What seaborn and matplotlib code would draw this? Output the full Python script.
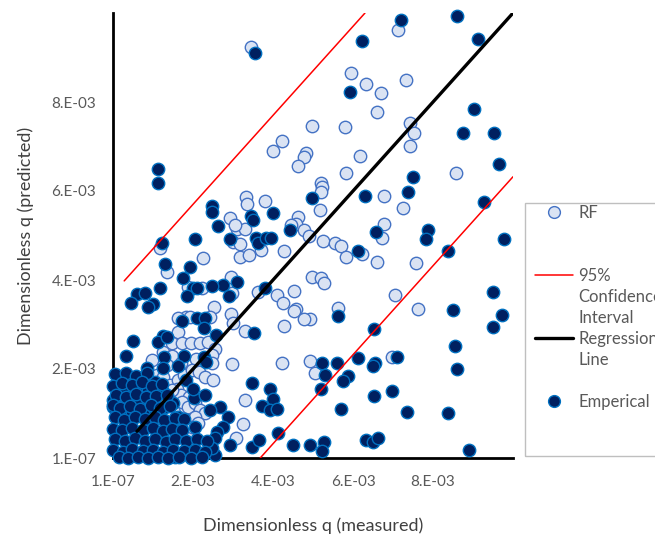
import numpy as np
import pandas as pd
import matplotlib
matplotlib.use('Agg')
import matplotlib.pyplot as plt
from matplotlib.lines import Line2D
from matplotlib.patches import Rectangle
import seaborn as sns

# all values below are in units of 1e-3
SCALE = 1e-3

# RF predictions (measured, predicted)
rf_pts = [
    (3.45, 9.24), (4.97, 7.46), (4.23, 7.12), (4.00, 6.90), (4.83, 6.85), (4.78, 6.76),
    (7.13, 9.62), (5.95, 8.65), (6.33, 8.40), (7.33, 8.49), (6.70, 8.20), (6.60, 7.78),
    (5.80, 7.44), (7.43, 7.53), (7.53, 7.30), (7.43, 7.01), (6.18, 6.79), (4.63, 6.56),
    (3.33, 5.87), (3.35, 5.71), (3.80, 5.78), (2.93, 5.39), (3.10, 5.15), (3.30, 5.15),
    (3.05, 5.24), (4.63, 5.42), (4.58, 5.26), (4.45, 5.24), (4.78, 5.12), (3.00, 4.85),
    (3.18, 4.81), (3.70, 4.67), (4.28, 4.65), (4.90, 4.99), (1.18, 4.72), (2.25, 4.49),
    (3.18, 4.52), (3.40, 4.56), (1.35, 4.18), (2.95, 4.07), (1.88, 3.84), (2.23, 3.82),
    (2.98, 3.71), (3.63, 3.73), (4.10, 3.66), (4.25, 3.48), (4.53, 3.75), (4.58, 3.35),
    (4.97, 4.07), (2.53, 3.39), (5.83, 6.40), (8.58, 6.40), (5.20, 6.18), (5.23, 6.09),
    (5.20, 5.98), (5.18, 5.57), (6.78, 5.89), (7.25, 5.62), (6.78, 5.26), (6.73, 4.94),
    (5.25, 4.88), (5.55, 4.83), (5.70, 4.76), (5.83, 4.52), (6.23, 4.58), (6.60, 4.40),
    (7.58, 4.38), (5.20, 4.04), (5.28, 3.93), (7.05, 3.66), (5.63, 3.37), (7.63, 3.35),
    (4.93, 3.12), (4.93, 2.18), (5.05, 1.91), (6.98, 2.27),
    (1.83, 3.17), (1.93, 3.17), (1.63, 3.15), (2.43, 3.17), (2.95, 3.24), (3.00, 3.03),
    (4.28, 2.97), (4.53, 3.30), (4.78, 3.12), (1.63, 2.83), (3.30, 2.85),
    (1.48, 2.58), (1.73, 2.58), (1.95, 2.58), (2.18, 2.58), (2.38, 2.61), (2.55, 2.45),
    (1.25, 2.38), (1.33, 2.25), (1.48, 2.29), (1.35, 2.09), (1.70, 2.13), (2.08, 2.22),
    (2.48, 2.31), (2.48, 2.13), (2.98, 2.11), (4.23, 2.13), (0.98, 2.20),
    (1.10, 1.87), (1.25, 1.82), (1.43, 1.64), (1.63, 1.75), (1.78, 1.87), (1.98, 1.98),
    (2.15, 1.93), (2.30, 1.82), (2.50, 1.75), (1.60, 1.55), (1.70, 1.42), (1.90, 1.37),
    (1.60, 1.08), (1.80, 1.15), (1.98, 1.01), (1.93, 0.85), (1.75, 0.67), (1.85, 0.56),
    (3.30, 1.30), (3.25, 0.76), (3.08, 0.45),
    (1.48, 1.53), (1.73, 1.26), (1.88, 1.15), (2.05, 1.24), (2.18, 1.08), (2.30, 1.01),
    (2.05, 0.92), (1.98, 0.70), (2.13, 0.79),
]

# empirical predictions (measured, predicted)
emp_pts = [
    (3.55, 9.10), (7.20, 9.84), (8.60, 9.93), (6.23, 9.37), (9.13, 9.42), (5.93, 8.22),
    (9.03, 7.84), (8.75, 7.30), (9.53, 7.30), (1.13, 6.49), (1.13, 6.18), (2.48, 5.66),
    (2.48, 5.53), (4.00, 5.51), (3.45, 5.44), (3.50, 5.35), (2.63, 5.21), (4.43, 5.12),
    (4.97, 5.84), (2.05, 4.92), (2.93, 4.92), (3.58, 4.94), (3.63, 4.83), (3.83, 4.94),
    (3.95, 4.94), (1.23, 4.83), (1.30, 4.36), (1.93, 4.29), (1.75, 4.04), (3.10, 3.96),
    (2.75, 3.89), (2.48, 3.87), (2.00, 3.82), (2.10, 3.82), (1.18, 3.82), (1.85, 3.64),
    (2.90, 3.64), (3.80, 3.82), (0.60, 3.69), (0.80, 3.71), (0.45, 3.48), (1.00, 3.46),
    (0.88, 3.39), (9.65, 6.61), (7.50, 6.31), (6.30, 5.89), (7.38, 5.98), (9.28, 5.75),
    (6.58, 5.08), (7.88, 5.12), (7.83, 4.92), (9.78, 4.92), (8.38, 4.65), (6.13, 4.65),
    (9.50, 3.73), (8.50, 3.33), (5.63, 3.19), (9.73, 3.21), (9.50, 2.94), (6.53, 2.90),
    (8.55, 2.52), (8.60, 2.00), (5.23, 2.13), (5.60, 2.13), (5.30, 1.87), (5.20, 1.55),
    (6.13, 2.25), (6.55, 2.13), (6.50, 2.07), (7.10, 2.27), (5.88, 1.84), (5.75, 1.73),
    (6.53, 1.39), (6.98, 1.51), (5.70, 1.10), (7.35, 1.03), (8.38, 1.01), (4.93, 0.29),
    (5.28, 0.36), (5.23, 0.16), (6.33, 0.40), (6.50, 0.36), (6.63, 0.45), (8.90, 0.18),
    (1.73, 3.08), (2.10, 3.15), (2.30, 3.15), (2.28, 2.92), (3.53, 2.81), (1.25, 2.74),
    (1.13, 2.61), (1.35, 2.72), (0.50, 2.63), (2.58, 2.76), (0.33, 2.29), (1.28, 2.27),
    (1.78, 2.29), (2.28, 2.27), (1.63, 2.07), (2.33, 2.16), (0.85, 2.02), (1.25, 2.02),
    (1.83, 1.75), (1.05, 1.71), (1.18, 1.60), (0.10, 1.71), (0.43, 1.75), (0.13, 1.55),
    (0.30, 1.53), (0.63, 1.60), (0.88, 1.53), (0.60, 1.37), (0.83, 1.37), (2.03, 1.35),
    (2.30, 1.42), (2.00, 1.55), (1.25, 1.48), (1.50, 1.24), (0.00, 1.15), (0.25, 1.17),
    (0.00, 1.30), (0.30, 1.01), (0.48, 1.01), (0.68, 1.03), (0.88, 0.97), (1.05, 1.08),
    (1.30, 1.15), (0.63, 1.24), (1.63, 0.92), (2.05, 0.70), (3.48, 1.69), (3.93, 1.55),
    (4.00, 1.33), (3.73, 1.17), (3.93, 1.08), (4.10, 1.10), (2.88, 0.92), (2.75, 0.70),
    (2.60, 0.58), (2.55, 0.45), (2.93, 0.29), (3.48, 0.25), (3.65, 0.40), (4.13, 0.56),
    (4.50, 0.29), (2.55, 0.07), (2.23, 0.09), (2.05, 0.07), (1.88, 0.13), (1.73, 0.07),
    (2.48, 0.22), (1.55, 0.02), (2.68, 1.15), (2.43, 1.08),
    # dense cluster near the origin
    (0.05, 1.88), (0.32, 1.92), (0.58, 1.85), (0.85, 1.90),
    (0.00, 1.62), (0.22, 1.68), (0.48, 1.64), (0.72, 1.70), (0.98, 1.62), (1.22, 1.66),
    (0.08, 1.42), (0.33, 1.38), (0.58, 1.44), (0.82, 1.36), (1.08, 1.40), (1.35, 1.42),
    (0.00, 1.18), (0.18, 1.12), (0.42, 1.16), (0.68, 1.10), (0.95, 1.18), (1.18, 1.12),
    (1.42, 1.16),
    (0.05, 0.92), (0.28, 0.86), (0.55, 0.93), (0.80, 0.87), (1.05, 0.92), (1.28, 0.86),
    (1.55, 0.91), (1.78, 0.88),
    (0.00, 0.66), (0.22, 0.62), (0.48, 0.68), (0.74, 0.62), (1.00, 0.67), (1.24, 0.61),
    (1.48, 0.66), (1.72, 0.63),
    (0.06, 0.42), (0.30, 0.38), (0.56, 0.44), (0.80, 0.38), (1.06, 0.43), (1.32, 0.37),
    (1.56, 0.42), (1.82, 0.38), (2.10, 0.42), (2.35, 0.38),
    (0.00, 0.18), (0.25, 0.14), (0.48, 0.20), (0.74, 0.15), (1.00, 0.19), (1.24, 0.14),
    (1.50, 0.19), (1.78, 0.15), (2.05, 0.18), (2.30, 0.14),
    (0.14, 0.02), (0.38, 0.00), (0.62, 0.03), (0.88, 0.00), (1.12, 0.03), (1.38, 0.00),
    (1.66, 0.03), (1.95, 0.00), (2.22, 0.02),
]

# fitted lines (end points)
reg_x = [0.6, 10.0]
reg_y = [0.6, 10.0]
ci_upper_x = [0.28, 6.3]
ci_upper_y = [3.98, 10.0]
ci_lower_x = [3.68, 10.0]
ci_lower_y = [0.0, 6.32]

tick_vals = [0, 2, 4, 6, 8]
tick_labels = ['1.E-07', '2.E-03', '4.E-03', '6.E-03', '8.E-03']

rf = pd.DataFrame(rf_pts, columns=['measured', 'predicted']) * SCALE
emp = pd.DataFrame(emp_pts, columns=['measured', 'predicted']) * SCALE

sns.set_style('white')
plt.rcParams['font.family'] = ['Lato', 'DejaVu Sans']

RF_FACE, RF_EDGE = '#DAE3F3', '#4472C4'
EMP_FACE, EMP_EDGE = '#002060', '#0070C0'

fig = plt.figure(figsize=(6.55, 5.36), dpi=100)
ax = fig.add_axes([113 / 655, 78 / 536, 400 / 655, 445 / 536])

sns.scatterplot(data=rf, x='measured', y='predicted', ax=ax, s=80, color=RF_FACE,
                edgecolor=RF_EDGE, linewidth=1.0, zorder=3, clip_on=False, legend=False)
sns.scatterplot(data=emp, x='measured', y='predicted', ax=ax, s=80, color=EMP_FACE,
                edgecolor=EMP_EDGE, linewidth=1.0, zorder=4, clip_on=False, legend=False)

sns.lineplot(x=np.array(ci_upper_x) * SCALE, y=np.array(ci_upper_y) * SCALE, ax=ax,
             color='#FF0000', lw=1.1, zorder=5)
sns.lineplot(x=np.array(ci_lower_x) * SCALE, y=np.array(ci_lower_y) * SCALE, ax=ax,
             color='#FF0000', lw=1.1, zorder=5)
sns.lineplot(x=np.array(reg_x) * SCALE, y=np.array(reg_y) * SCALE, ax=ax,
             color='black', lw=2.4, zorder=5)

ax.set_xlim(0, 10 * SCALE)
ax.set_ylim(0, 10 * SCALE)
ax.set_xticks(np.array(tick_vals) * SCALE)
ax.set_xticklabels(tick_labels)
ax.set_yticks(np.array(tick_vals) * SCALE)
ax.set_yticklabels(tick_labels)
ax.tick_params(direction='out', length=5, width=1.5, color='black',
               labelcolor='#595959', labelsize=11, pad=7)
sns.despine(ax=ax)
for side in ['left', 'bottom']:
    ax.spines[side].set_linewidth(2)
    ax.spines[side].set_color('black')

ax.set_xlabel('Dimensionless q (measured)', fontsize=13, color='#404040', labelpad=21)
ax.set_ylabel('Dimensionless q (predicted)', fontsize=13, color='#404040', labelpad=13)

# legend, Excel style: handle next to the first line of each label
blank = Line2D([], [], ls='none')
handles = [
    Line2D([], [], ls='none', marker='o', ms=8.5, mfc=RF_FACE, mec=RF_EDGE, mew=1),
    blank, blank,
    Line2D([], [], color='#FF0000', lw=1.1),
    blank, blank,
    Line2D([], [], color='black', lw=2.4),
    blank, blank,
    Line2D([], [], ls='none', marker='o', ms=8.5, mfc=EMP_FACE, mec=EMP_EDGE, mew=1),
]
labels = ['RF', ' ', ' ', '95%', 'Confidence', 'Interval', 'Regression', 'Line', ' ', 'Emperical']
fig.legend(handles, labels, loc='upper left', bbox_to_anchor=(535 / 655, 1 - 205 / 536),
           bbox_transform=fig.transFigure, borderaxespad=0, borderpad=0,
           handlelength=2.3, handletextpad=0.3, labelspacing=0.3, frameon=False,
           fontsize=12, labelcolor='#595959')
fig.add_artist(Rectangle((525 / 655, 80 / 536), 0.4, 253 / 536, transform=fig.transFigure,
                         fill=False, edgecolor='#BFBFBF', lw=1))

fig.savefig('out.png', dpi=100)
